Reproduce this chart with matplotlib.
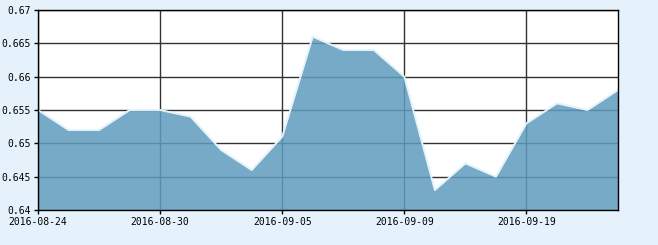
import numpy as np
import matplotlib.pyplot as plt

dates = ['2016-08-24', '2016-08-25', '2016-08-26', '2016-08-29', '2016-08-30',
         '2016-08-31', '2016-09-01', '2016-09-02', '2016-09-05', '2016-09-06',
         '2016-09-07', '2016-09-08', '2016-09-09', '2016-09-12', '2016-09-13',
         '2016-09-14', '2016-09-19', '2016-09-20', '2016-09-21', '2016-09-22']
values = [0.655, 0.652, 0.652, 0.655, 0.655, 0.654, 0.649, 0.646, 0.651, 0.666,
          0.664, 0.664, 0.660, 0.643, 0.647, 0.645, 0.653, 0.656, 0.655, 0.658]
yticks = [0.64, 0.645, 0.65, 0.655, 0.66, 0.665, 0.67]
ytick_labels = ['0.64', '0.645', '0.65', '0.655', '0.66', '0.665', '0.67']

bg = '#e6f2fb'
fig = plt.figure(figsize=(6.58, 2.45), dpi=100, facecolor=bg)
ax = fig.add_axes([38/658, 1 - 210/245, 580/658, 200/245])
ax.set_facecolor('white')

x = np.arange(len(values))
ax.fill_between(x, 0.64, values, color='#5e9bbd', alpha=0.85, lw=0, zorder=3)
ax.plot(x, values, color='#e4f2fb', lw=1.4, zorder=4)

ax.set_xlim(0, len(values) - 1)
ax.set_ylim(0.64, 0.67)
xt = x[::4]
ax.set_xticks(xt)
ax.set_xticklabels([dates[i] for i in xt])
ax.set_yticks(yticks)
ax.set_yticklabels(ytick_labels)

ax.grid(True, color='#333333', lw=1, zorder=1)
ax.set_axisbelow(True)
for s in ax.spines.values():
    s.set_color('black')
    s.set_linewidth(1)
    s.set_zorder(5)

ax.tick_params(axis='both', direction='out', length=3, width=1, color='black',
               labelsize=7, pad=2)
for lab in ax.get_xticklabels() + ax.get_yticklabels():
    lab.set_family('DejaVu Sans Mono')

fig.savefig('out.png', dpi=100, facecolor=bg)
